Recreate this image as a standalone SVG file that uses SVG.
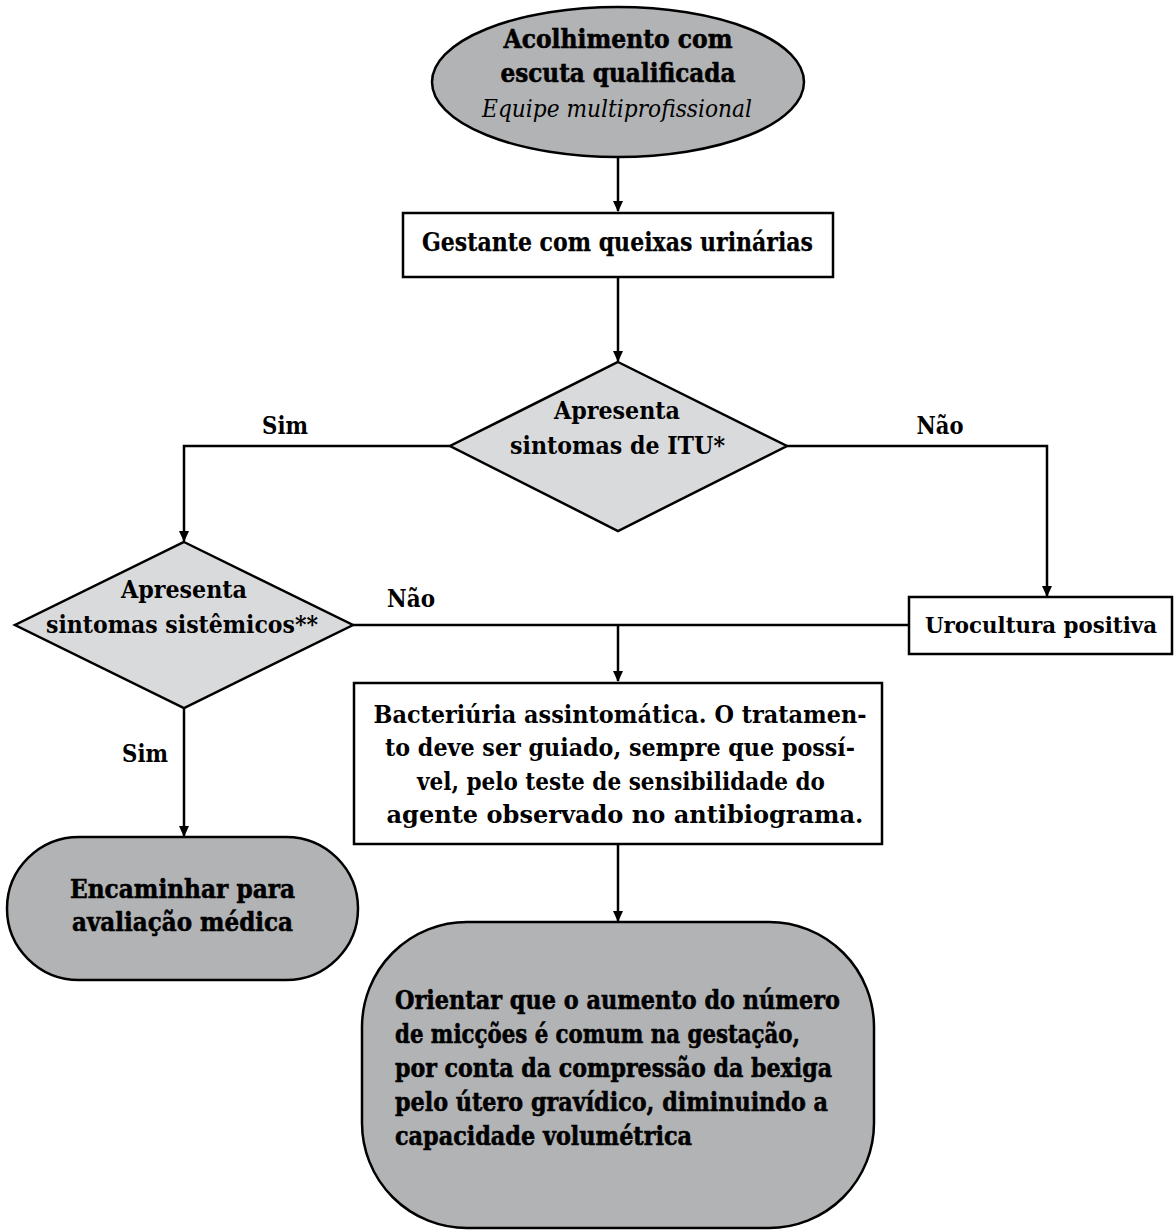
<svg xmlns="http://www.w3.org/2000/svg" width="1175" height="1230" viewBox="0 0 1175 1230">
<style>
  .t { font-family: "DejaVu Serif", "Liberation Serif", serif; font-weight: bold; fill: #000; }
  .heavy { stroke: #000; stroke-width: 0.6; }
  .mid { stroke: #000; stroke-width: 0.25; }
  .it { font-family: "DejaVu Serif", "Liberation Serif", serif; font-style: italic; font-weight: normal; fill: #000; }
  .dark { fill: #b2b3b5; stroke: #000; stroke-width: 2.5; }
  .light { fill: #d9dadc; stroke: #000; stroke-width: 2.5; }
  .box { fill: #fff; stroke: #000; stroke-width: 2.5; }
  .conn { fill: none; stroke: #000; stroke-width: 2.5; }
</style>
<defs>
  <marker id="arr" markerUnits="userSpaceOnUse" markerWidth="12" markerHeight="12" viewBox="0 0 12 12" refX="10" refY="6" orient="auto">
    <path d="M0,1 L11,6 L0,11 Z" fill="#000"/>
  </marker>
</defs>
<rect width="1175" height="1230" fill="#fff"/>

<g id="connectors">
  <path class="conn" d="M618,157 V211" marker-end="url(#arr)"/>
  <path class="conn" d="M618,277 V361" marker-end="url(#arr)"/>
  <path class="conn" d="M450,446 H184 V541" marker-end="url(#arr)"/>
  <path class="conn" d="M787,446 H1047 V596" marker-end="url(#arr)"/>
  <path class="conn" d="M353,625 H909"/>
  <path class="conn" d="M618,625 V681" marker-end="url(#arr)"/>
  <path class="conn" d="M184,708 V836" marker-end="url(#arr)"/>
  <path class="conn" d="M618,844 V921" marker-end="url(#arr)"/>
  <text class="t" x="285" y="434" font-size="25" text-anchor="middle" textLength="46" lengthAdjust="spacingAndGlyphs">Sim</text>
  <text class="t" x="940" y="434" font-size="25" text-anchor="middle" textLength="47" lengthAdjust="spacingAndGlyphs">Não</text>
  <text class="t" x="411" y="607" font-size="25" text-anchor="middle" textLength="48" lengthAdjust="spacingAndGlyphs">Não</text>
  <text class="t" x="145" y="762" font-size="25" text-anchor="middle" textLength="46" lengthAdjust="spacingAndGlyphs">Sim</text>
</g>

<g id="acolhimento">
  <ellipse class="dark" cx="618" cy="82" rx="186" ry="75"/>
  <text class="t heavy" x="618" y="48" font-size="26" text-anchor="middle" textLength="229" lengthAdjust="spacingAndGlyphs">Acolhimento com</text>
  <text class="t heavy" x="618" y="82" font-size="26" text-anchor="middle" textLength="235" lengthAdjust="spacingAndGlyphs">escuta qualificada</text>
  <text class="it" x="617" y="117" font-size="24" text-anchor="middle" textLength="270" lengthAdjust="spacingAndGlyphs">Equipe multiprofissional</text>
</g>

<g id="gestante">
  <rect class="box" x="403" y="213" width="430" height="64"/>
  <text class="t mid" x="617.5" y="251" font-size="26" text-anchor="middle" textLength="391" lengthAdjust="spacingAndGlyphs">Gestante com queixas urinárias</text>
</g>

<g id="sintomas-itu">
  <polygon class="light" points="618,362 787,446 618,531 450,446"/>
  <text class="t" x="617" y="419" font-size="25" text-anchor="middle" textLength="126" lengthAdjust="spacingAndGlyphs">Apresenta</text>
  <text class="t" x="617.5" y="454" font-size="25" text-anchor="middle" textLength="215" lengthAdjust="spacingAndGlyphs">sintomas de ITU*</text>
</g>

<g id="sintomas-sistemicos">
  <polygon class="light" points="184,542 353,625 184,708 15,625"/>
  <text class="t" x="184" y="598" font-size="25" text-anchor="middle" textLength="126" lengthAdjust="spacingAndGlyphs">Apresenta</text>
  <text class="t" x="182" y="633" font-size="25" text-anchor="middle" textLength="272" lengthAdjust="spacingAndGlyphs">sintomas sistêmicos**</text>
</g>

<g id="urocultura">
  <rect class="box" x="909" y="597" width="263" height="57"/>
  <text class="t" x="1041" y="633" font-size="22" text-anchor="middle" textLength="232" lengthAdjust="spacingAndGlyphs">Urocultura positiva</text>
</g>

<g id="bacteriuria">
  <rect class="box" x="354" y="683" width="528" height="161"/>
  <text class="t" x="620" y="723" font-size="25" text-anchor="middle" textLength="493" lengthAdjust="spacingAndGlyphs">Bacteriúria assintomática. O tratamen-</text>
  <text class="t" x="620" y="756" font-size="25" text-anchor="middle" textLength="470" lengthAdjust="spacingAndGlyphs">to deve ser guiado, sempre que possí-</text>
  <text class="t" x="621" y="790" font-size="25" text-anchor="middle" textLength="408" lengthAdjust="spacingAndGlyphs">vel, pelo teste de sensibilidade do</text>
  <text class="t" x="625" y="823" font-size="25" text-anchor="middle" textLength="477" lengthAdjust="spacingAndGlyphs">agente observado no antibiograma.</text>
</g>

<g id="encaminhar">
  <rect class="dark" x="7" y="837" width="351" height="143" rx="72" ry="72"/>
  <text class="t heavy" x="182.5" y="898" font-size="26" text-anchor="middle" textLength="225" lengthAdjust="spacingAndGlyphs">Encaminhar para</text>
  <text class="t heavy" x="182.5" y="931" font-size="26" text-anchor="middle" textLength="221" lengthAdjust="spacingAndGlyphs">avaliação médica</text>
</g>

<g id="orientar">
  <rect class="dark" x="362" y="922" width="512" height="306" rx="105" ry="105"/>
  <text class="t heavy" x="395" y="1009" font-size="26" textLength="445" lengthAdjust="spacingAndGlyphs">Orientar que o aumento do número</text>
  <text class="t heavy" x="395" y="1043" font-size="26" textLength="405" lengthAdjust="spacingAndGlyphs">de micções é comum na gestação,</text>
  <text class="t heavy" x="395" y="1077" font-size="26" textLength="437" lengthAdjust="spacingAndGlyphs">por conta da compressão da bexiga</text>
  <text class="t heavy" x="395" y="1111" font-size="26" textLength="433" lengthAdjust="spacingAndGlyphs">pelo útero gravídico, diminuindo a</text>
  <text class="t heavy" x="395" y="1145" font-size="26" textLength="297" lengthAdjust="spacingAndGlyphs">capacidade volumétrica</text>
</g>
</svg>
